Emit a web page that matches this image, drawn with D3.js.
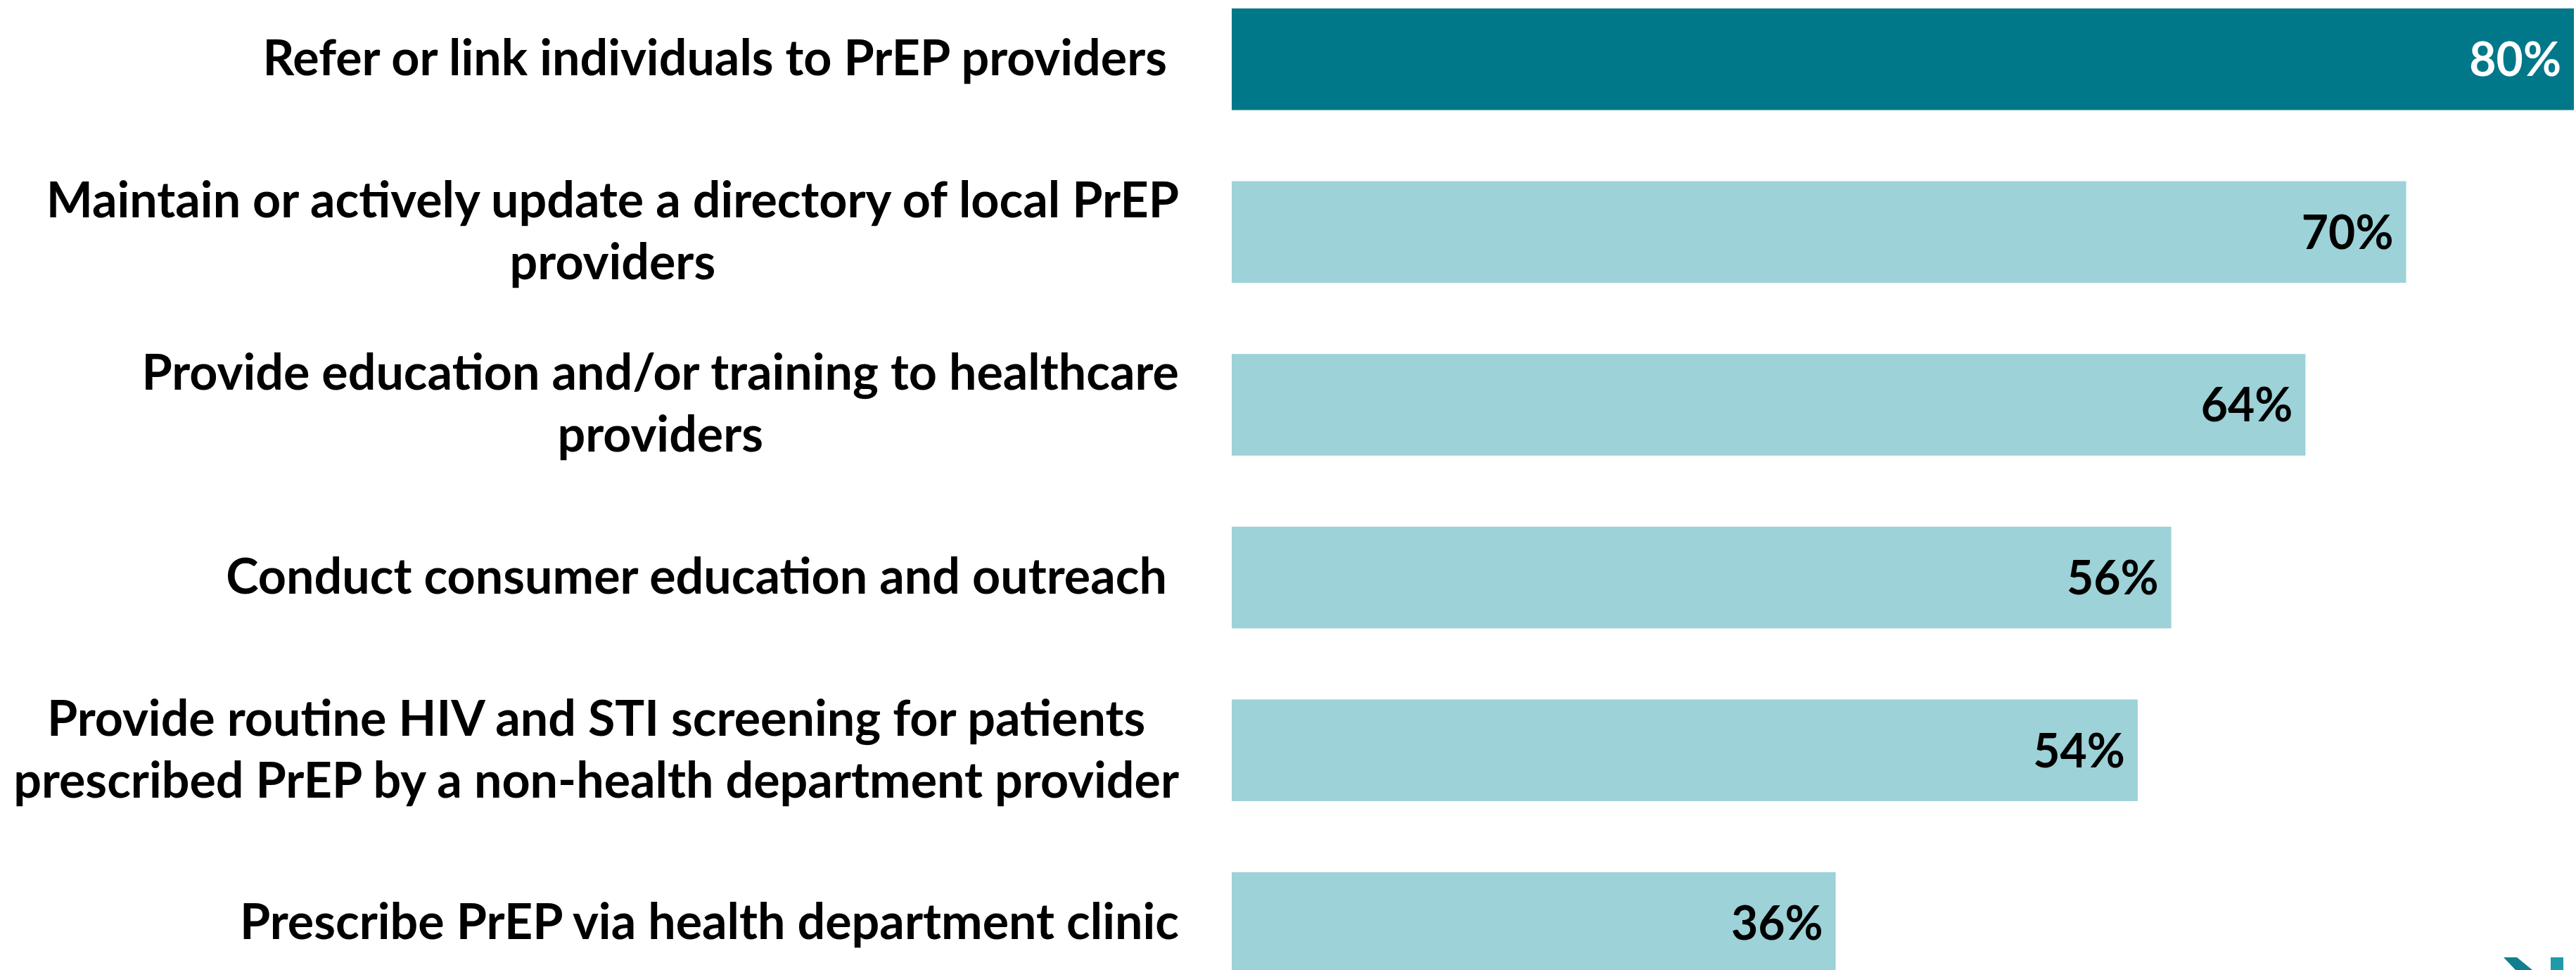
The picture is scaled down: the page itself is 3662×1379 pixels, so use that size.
<!DOCTYPE html>
<html>
<head>
<meta charset="utf-8">
<script src="https://cdn.jsdelivr.net/npm/d3@7"></script>
<style>
  html, body { margin: 0; padding: 0; background: #ffffff; }
  svg { display: block; }
  text { white-space: pre; }
</style>
</head>
<body>
<div id="container"></div>
<script>
// activities, wrapped the way the reference wraps them
const categories = [
    ['Refer or link individuals to PrEP providers '],
    ['Maintain or actively update a directory of local PrEP', 'providers'],
    ['Provide education and/or training to healthcare', 'providers'],
    ['Conduct consumer education and outreach '],
    ['Provide routine HIV and STI screening for patients', 'prescribed PrEP by a non-health department provider'],
    ['Prescribe PrEP via health department clinic']
];
const values = [80, 70, 64, 56, 54, 36];
const highlight = [true, false, false, false, false, false];

const W = 3662, H = 1379;
const barLeft = 1751;
const labelRight = 1676;
const fontSize = 70;
const valueFontSize = 66;
const lineGap = 88;

const svg = d3.select('#container')
    .append('svg')
    .attr('width', W)
    .attr('height', H)
    .attr('viewBox', `0 0 ${W} ${H}`)
    .attr('font-family', 'Lato, "Open Sans", sans-serif')
    .attr('font-weight', 'bold');

const x = d3.scaleLinear()
    .domain([0, 100])
    .range([barLeft, barLeft + 2385]);

const keys = categories.map((_, i) => i);
const pad = 0.4117;
const step = 245.6;
const y = d3.scaleBand()
    .domain(keys)
    .range([12, 12 + step * (keys.length - pad)])
    .paddingInner(pad)
    .paddingOuter(0);

// bars
svg.append('g')
    .selectAll('rect')
    .data(values).enter()
    .append('rect')
    .attr('x', x(0))
    .attr('y', (d, i) => y(i))
    .attr('width', d => x(d) - x(0))
    .attr('height', y.bandwidth())
    .attr('fill', (d, i) => highlight[i] ? '#007889' : '#9cd2d8');

// value labels inside the bar end
svg.append('g')
    .selectAll('text')
    .data(values).enter()
    .append('text')
    .attr('x', d => x(d) - 18)
    .attr('y', (d, i) => y(i) + y.bandwidth() / 2 + 24)
    .attr('text-anchor', 'end')
    .attr('font-size', valueFontSize)
    .attr('fill', (d, i) => highlight[i] ? '#ffffff' : '#000000')
    .text(d => d + '%');

// category labels: block right aligned, lines centred inside the block
const labelG = svg.append('g');
categories.forEach((lines, i) => {
    const cy = y(i) + y.bandwidth() / 2;
    const g = labelG.append('g');
    const texts = lines.map((line, j) => g.append('text')
        .attr('y', cy + (j - (lines.length - 1) / 2) * lineGap + 23)
        .attr('font-size', fontSize)
        .attr('fill', '#000000')
        .attr('text-anchor', 'middle')
        .text(line));
    const blockW = d3.max(texts, t => t.node().getComputedTextLength());
    texts.forEach(t => t.attr('x', labelRight - blockW / 2));
});

// corner of the logo peeking in at the bottom right
svg.append('path')
    .attr('d', 'M3559,1361 L3578,1361 L3600,1379 L3576,1379 Z')
    .attr('fill', '#137f8e');
svg.append('rect')
    .attr('x', 3626).attr('y', 1361)
    .attr('width', 18).attr('height', 18)
    .attr('fill', '#1e9aa8');
</script>
</body>
</html>
